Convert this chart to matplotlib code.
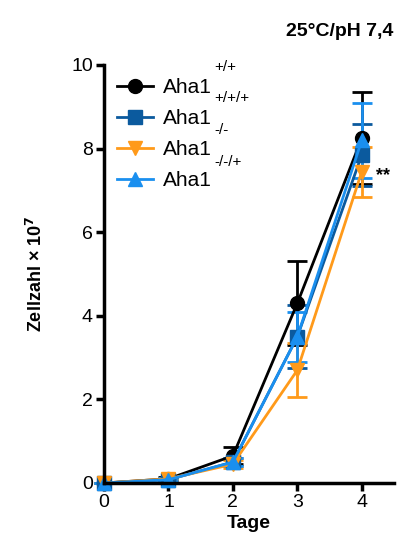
import matplotlib
matplotlib.use("Agg")
import matplotlib.pyplot as plt
from matplotlib.lines import Line2D

plt.rcParams['font.family'] = ['Liberation Sans', 'DejaVu Sans']

days = [0, 1, 2, 3, 4]
x_ticks = [0, 1, 2, 3, 4]
y_ticks = [0, 2, 4, 6, 8, 10]

series_names = ['Aha1', 'Aha1', 'Aha1', 'Aha1']
genotypes = ['+/+', '+/+/+', '-/-', '-/-/+']
wt_mean = [0, 0.1, 0.65, 4.3, 8.25]
wt_err = [0, 0.05, 0.2, 1.0, 1.1]
ko_mean = [0, 0.08, 0.5, 3.5, 7.85]
ko_err = [0, 0.03, 0.1, 0.75, 0.75]
kor_mean = [0, 0.1, 0.45, 2.7, 7.45]
kor_err = [0, 0.03, 0.1, 0.65, 0.6]
wtr_mean = [0, 0.08, 0.5, 3.5, 8.2]
wtr_err = [0, 0.03, 0.1, 0.6, 0.9]

means = [wt_mean, ko_mean, kor_mean, wtr_mean]
errs = [wt_err, ko_err, kor_err, wtr_err]
colors = ['#000000', '#0B5A9E', '#FF9A1A', '#1A8FEF']
markers = ['o', 's', 'v', '^']

fig = plt.figure(figsize=(4.0, 5.43), dpi=100)
ax = fig.add_axes([0.26, 0.1105, 0.725, 0.7698])

handles = []
for m, e, c, mk, nm in zip(means, errs, colors, markers, series_names):
    ax.errorbar(days, m, yerr=e, color=c, marker=mk, markersize=10,
                linewidth=2.0, elinewidth=2.0, capsize=7, capthick=2.0,
                clip_on=False)
    handles.append(Line2D([], [], color=c, marker=mk, markersize=10, linewidth=2.0))

ax.set_xlim(0, 4.5)
ax.set_ylim(0, 10)
ax.set_xticks(x_ticks)
ax.set_yticks(y_ticks)
for s in ['top', 'right']:
    ax.spines[s].set_visible(False)
for s in ['left', 'bottom']:
    ax.spines[s].set_linewidth(2.5)
ax.tick_params(width=2.5, length=6, labelsize=14, pad=2)
ax.set_xlabel('Tage', fontsize=14, fontweight='bold', labelpad=3)
ax.set_ylabel('Zellzahl × 10$^{\\mathbf{7}}$', fontsize=13, fontweight='bold', labelpad=18)

leg = ax.legend(handles=handles, labels=series_names, loc='upper left',
                bbox_to_anchor=(-0.02, 1.013), frameon=False, fontsize=15,
                handlelength=1.75, handletextpad=0.45, labelspacing=0.57)

sup_y = [67, 98, 130, 162]
for g, yy in zip(genotypes, sup_y):
    fig.text(214 / 400, 1 - yy / 543, g, fontsize=11, ha='left', va='center')

ax.text(4.22, 7.35, '**', fontsize=13, fontweight='bold', ha='left', va='center')
fig.text(340 / 400, 1 - 31 / 543, '25°C/pH 7,4', fontsize=14, fontweight='bold',
         ha='center', va='center')

fig.savefig('out.png', dpi=100)
